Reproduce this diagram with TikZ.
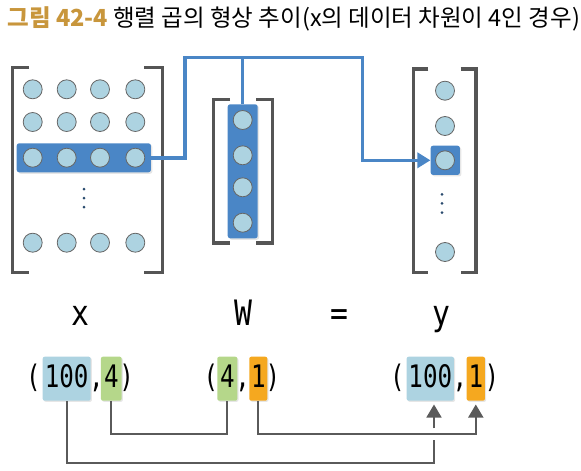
\documentclass[tikz,border=0pt]{standalone}
\usepackage{fontspec}
\usepackage{tikz}
\usetikzlibrary{arrows.meta,shadows}

\newfontfamily\krfont{Noto Sans CJK KR}
\newfontfamily\lblfont[FakeStretch=0.85]{DejaVu Sans Mono}
\newfontfamily\numfont[FakeStretch=0.78]{DejaVu Sans Mono}

\definecolor{titlegold}{HTML}{C8963C}
\definecolor{cellblue}{HTML}{ADD3E1}
\definecolor{barblue}{HTML}{4A86C6}
\definecolor{brgray}{HTML}{555555}
\definecolor{linegray}{HTML}{5A5A5A}
\definecolor{boxgreen}{HTML}{B5D78A}
\definecolor{boxorange}{HTML}{F5A81F}

\begin{document}
\begin{tikzpicture}[x=1pt, y=-1pt,
        cell/.style={circle, minimum size=19pt, inner sep=0, fill=cellblue, draw=black!60, line width=0.8pt},
        bar/.style={rectangle, rounded corners=2.5pt, inner sep=0, fill=barblue,
            drop shadow={opacity=0.2, shadow xshift=1.5pt, shadow yshift=-1.5pt}},
        vdot/.style={circle, inner sep=0, minimum size=3pt, fill=barblue!55!black},
        bracket/.style={draw=brgray, line width=3.3pt},
        rowflow/.style={draw=barblue, line width=3.5pt},
        mlabel/.style={anchor=base, inner sep=0, font={\lblfont\fontsize{35}{40}\selectfont}},
        dimbox/.style={rectangle, rounded corners=2pt, inner sep=0, minimum height=44pt,
            text height=22.7pt, text depth=6pt, font={\numfont\fontsize{31}{36}\selectfont},
            drop shadow={opacity=0.2, shadow xshift=1.2pt, shadow yshift=-1.2pt}},
        dimtext/.style={anchor=base, inner sep=0, font={\numfont\fontsize{31}{36}\selectfont}},
        dimline/.style={draw=linegray, line width=1.7pt},
        tip/.style={-{Triangle[length=13pt, width=15pt]}, shorten >=3.6pt}]
    \useasboundingbox (0,0) rectangle (581,471);

    \node[anchor=base west, inner sep=0, font={\krfont\fontsize{23.5}{28}\selectfont}] (title) at (7.3,26)
        {{\color{titlegold}\bfseries 그림 42-4} 행렬 곱의 형상 추이(x의 데이터 차원이 4인 경우)};

    % brackets
    \draw[bracket] (29,67.3) -- (12.3,67.3) -- (12.3,272.3) -- (29,272.3);
    \draw[bracket] (144.3,67.3) -- (162.3,67.3) -- (162.3,272.3) -- (144.3,272.3);

    \draw[bracket] (230,99.2) -- (213.7,99.2) -- (213.7,243) -- (230,243);
    \draw[bracket] (256,99.2) -- (272.5,99.2) -- (272.5,243) -- (256,243);

    \draw[bracket] (428.3,69) -- (413.3,69) -- (413.3,272.3) -- (428.3,272.3);
    \draw[bracket] (460.7,69) -- (476,69) -- (476,272.3) -- (460.7,272.3);

    % highlighted row, column and cell
    \node[bar, minimum width=134.3pt, minimum height=29pt] (xbar) at (83.8,157.8) {};
    \node[bar, minimum width=30pt, minimum height=134pt] (wbar) at (242.7,171.3) {};
    \node[bar, minimum size=29.3pt] (ycell) at (445.3,160.3) {};

    \node[cell] (x11) at (32.7,89.3) {};
    \node[cell] (x12) at (66.7,89.3) {};
    \node[cell] (x13) at (100,89.3) {};
    \node[cell] (x14) at (135.3,89.3) {};

    \node[cell] (x21) at (32.7,122) {};
    \node[cell] (x22) at (66.7,122) {};
    \node[cell] (x23) at (100,122) {};
    \node[cell] (x24) at (135.3,122) {};

    \node[cell] (x31) at (32.7,157.7) {};
    \node[cell] (x32) at (66.7,157.7) {};
    \node[cell] (x33) at (100,157.7) {};
    \node[cell] (x34) at (135.3,157.7) {};

    \node[vdot] (xd1) at (84,189) {};
    \node[vdot] (xd2) at (84,198) {};
    \node[vdot] (xd3) at (84,207) {};

    \node[cell] (x41) at (32.7,242.7) {};
    \node[cell] (x42) at (66.7,242.7) {};
    \node[cell] (x43) at (100,242.7) {};
    \node[cell] (x44) at (135.3,242.7) {};

    \node[cell] (w1) at (242.7,120) {};
    \node[cell] (w2) at (242.7,155.3) {};
    \node[cell] (w3) at (242.7,187.3) {};
    \node[cell] (w4) at (242.7,222.7) {};

    \node[cell] (y1) at (445,90.7) {};
    \node[cell] (y2) at (445,126) {};
    \node[cell] (y3) at (445,160.3) {};
    \node[vdot] (yd1) at (442,194.3) {};
    \node[vdot] (yd2) at (442,203.3) {};
    \node[vdot] (yd3) at (442,212.7) {};
    \node[cell] (y4) at (445,252) {};

    % row times column
    \coordinate (xturn) at (185,57.5);
    \coordinate (yturn) at (362.5,57.5);
    \draw[rowflow, -{Triangle[length=13pt, width=15pt]}] (xbar.east) -| (xturn) -- (yturn) |- (ycell.west);
    \draw[rowflow] (wbar.north) -- (wbar.north |- xturn);

    \node[mlabel] (xlbl) at (80,325.7) {x};
    \node[mlabel] (wlbl) at (243.3,325.7) {W};
    \node[mlabel] (eqlbl) at (339.3,325.7) {=};
    \node[mlabel] (ylbl) at (441.7,325.7) {y};

    % shapes
    \node[dimtext] (xlp) at (33.3,387) {(};
    \node[dimbox, fill=cellblue, minimum width=48pt] (x100) at (66.7,378.7) {100};
    \node[dimtext] (xcm) at (96.3,387) {,};
    \node[dimbox, fill=boxgreen, minimum width=20.7pt] (xdim) at (111.3,378.7) {4};
    \node[dimtext] (xrp) at (126.7,387) {)};

    \node[dimtext] (wlp) at (210.8,387) {(};
    \node[dimbox, fill=boxgreen, minimum width=20pt] (wdim) at (227.3,378.7) {4};
    \node[dimtext] (wcm) at (242.7,387) {,};
    \node[dimbox, fill=boxorange, minimum width=18pt] (wout) at (258.3,378.7) {1};
    \node[dimtext] (wrp) at (273,387) {)};

    \node[dimtext] (ylp) at (397.5,387) {(};
    \node[dimbox, fill=cellblue, minimum width=47.3pt] (y100) at (430.3,378.7) {100};
    \node[dimtext] (ycm) at (460,387) {,};
    \node[dimbox, fill=boxorange, minimum width=18.3pt] (yout) at (475.8,378.7) {1};
    \node[dimtext] (yrp) at (492,387) {)};

    \coordinate (lowturn) at (434,462.7);
    \coordinate (gapbot) at (434,440);
    \coordinate (gaptop) at (434,428.3);
    \coordinate (midA) at (170,434);
    \coordinate (midB) at (370,434);

    \draw[dimline] (x100.south) |- (lowturn) -- (gapbot);
    \draw[dimline, tip] (gaptop) -- (gaptop |- y100.south);
    \draw[dimline] (xdim.south) |- (midA) -| (wdim.south);
    \draw[dimline, tip] (wout.south) |- (midB) -| (yout.south);
\end{tikzpicture}
\end{document}
